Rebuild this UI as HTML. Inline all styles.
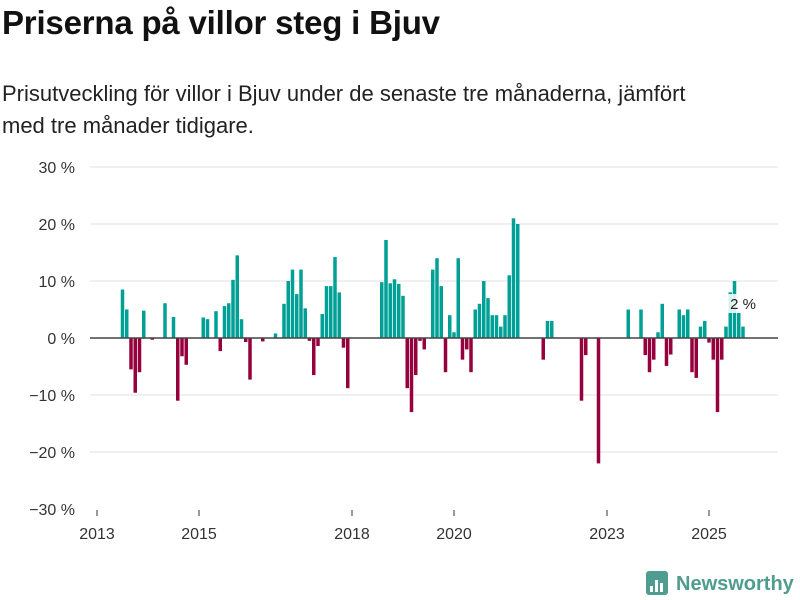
<!DOCTYPE html>
<html><head><meta charset="utf-8"><style>
body{margin:0;background:#fff;font-family:"Liberation Sans","DejaVu Sans",sans-serif;}
#wrap{position:relative;width:800px;height:600px;overflow:hidden}
h1{position:absolute;left:2px;top:4px;margin:0;font-size:33px;font-weight:bold;color:#111;letter-spacing:-0.2px}
p{position:absolute;left:2px;top:78px;margin:0;font-size:22px;line-height:32px;color:#222;width:715px}
svg{position:absolute;left:0;top:0}
</style></head><body><div id="wrap">
<h1>Priserna på villor steg i Bjuv</h1>
<p>Prisutveckling för villor i Bjuv under de senaste tre månaderna, jämfört med tre månader tidigare.</p>
<svg id="c" width="800" height="600"></svg>
</div>
<script>
const months=[6,7,8,9,10,11,13,16,18,19,20,21,25,26,28,29,30,31,32,33,34,35,36,39,42,44,45,46,47,48,49,50,51,52,53,54,55,56,57,58,59,67,68,69,70,71,72,73,74,75,76,77,79,80,81,82,83,84,85,86,87,88,89,90,91,92,93,94,95,96,97,98,99,105,106,107,114,115,118,125,128,129,130,131,132,133,134,135,137,138,139,140,141,142,143,144,145,146,147,148,149,150,151,152];
const values=[8.5,5,-5.5,-9.6,-6,4.8,-0.3,6.1,3.7,-11,-3.2,-4.7,3.6,3.3,4.7,-2.3,5.6,6.1,10.2,14.5,3.3,-0.7,-7.3,-0.6,0.8,6,10,12,7.7,12,5.2,-0.5,-6.5,-1.4,4.2,9.1,9.1,14.2,8,-1.7,-8.8,9.8,17.2,9.6,10.3,9.5,7.4,-8.8,-13,-6.5,-0.5,-2,12,14,9.1,-6,4,1,14,-3.8,-2,-6,5,6,10,7,4,4,2,4,11,21,20,-3.8,3,3,-11,-3,-22,5,5,-3,-6,-3.8,1,6,-4.9,-2.9,5,4,5,-6,-7,2,3,-0.8,-3.8,-13,-3.8,2,8,10,4.4,2];
const yTicks=[30,20,10,0,-10,-20,-30];
const xTickYears=[2013,2015,2018,2020,2023,2025];
const NS='http://www.w3.org/2000/svg';
const svg=document.getElementById('c');
const x0=97,pxM=4.25,yZero=338,pxP=5.7;
const xs=m=>x0+m*pxM;
const ys=v=>yZero-v*pxP;
function mk(t,a){const e=document.createElementNS(NS,t);for(const k in a)e.setAttribute(k,a[k]);svg.appendChild(e);return e;}
yTicks.forEach(v=>{
 if(v!==0&&v!==-30){const g=mk('line',{x1:90,x2:778,y1:ys(v),y2:ys(v),stroke:'#e0e0e0','stroke-width':1});
 
 }
 const t=mk('text',{x:75,y:ys(v)+6,'text-anchor':'end','font-size':16,fill:'#333'});
 t.textContent=(v<0?'\u2212'+(-v):v)+' %';
 
 
});
xTickYears.forEach(y=>{
 const x=xs((y-2013)*12);
 const tk=mk('line',{x1:x,x2:x,y1:510,y2:516,stroke:'#333','stroke-width':1});
 
 
 const t=mk('text',{x:x,y:539,'text-anchor':'middle','font-size':16,fill:'#333'});
 t.textContent=y;
 
 
});
months.forEach((m,i)=>{
 const v=values[i],x=xs(m);
 const r=mk('rect',{x:x-1.75,width:3.5,y:Math.min(ys(v),yZero),height:Math.abs(ys(v)-yZero),fill:v>=0?'#00a096':'#96003c'});
 
 
});
const z=mk('line',{x1:90,x2:778,y1:yZero,y2:yZero,stroke:'#444','stroke-width':1.5});


const lx=xs(months[months.length-1]);
const lb=mk('rect',{x:lx-16,y:294,width:32,height:19,fill:'#fff',opacity:0.85});


const lt=mk('text',{x:lx,y:309,'text-anchor':'middle','font-size':15,fill:'#222'});
lt.textContent=values[values.length-1]+' %';


const lg=mk('g',{});


const b=document.createElementNS(NS,'rect');b.setAttribute('x',646);b.setAttribute('y',571);b.setAttribute('width',22);b.setAttribute('height',24);b.setAttribute('rx',3);b.setAttribute('fill','#4f9d8e');lg.appendChild(b);
[[650,586,3,6],[655,580,3,12],[660,583,3,9]].forEach(a=>{const r=document.createElementNS(NS,'rect');r.setAttribute('x',a[0]);r.setAttribute('y',a[1]);r.setAttribute('width',a[2]);r.setAttribute('height',a[3]);r.setAttribute('fill','#fff');lg.appendChild(r);});
const lt2=document.createElementNS(NS,'text');lt2.setAttribute('x',676);lt2.setAttribute('y',590);lt2.setAttribute('font-size',20);lt2.setAttribute('font-weight','bold');lt2.setAttribute('fill','#4f9d8e');lt2.textContent='Newsworthy';lg.appendChild(lt2);
</script></body></html>
